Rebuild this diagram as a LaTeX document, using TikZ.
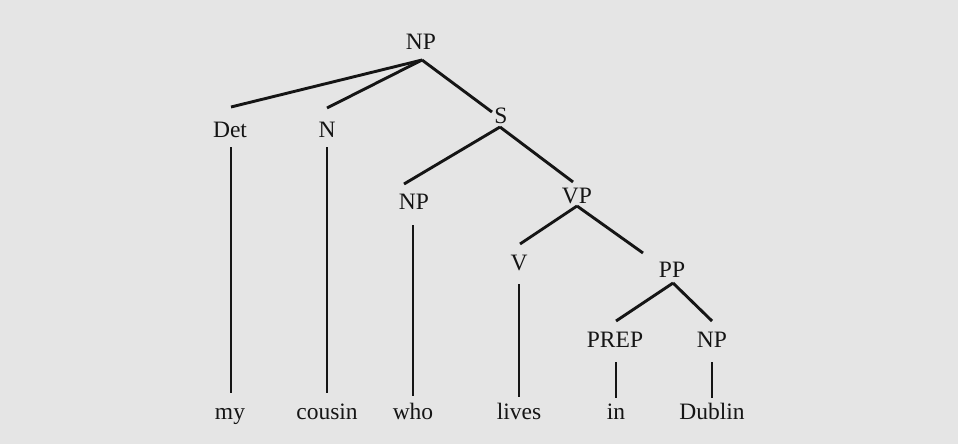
\documentclass[tikz,border=0pt]{standalone}
\usepackage{fontspec}
\setmainfont{Liberation Serif}
\definecolor{paper}{HTML}{E5E5E5}
\definecolor{ink}{HTML}{151515}
\begin{document}
\begin{tikzpicture}[x=1pt,y=-1pt,
  lbl/.style={anchor=base,inner sep=0pt,text=ink,font=\fontsize{23.5}{28}\selectfont},
  branch/.style={draw=ink,line width=2.9pt}]
% canvas
\fill[paper] (0,0) rectangle (958,444);
\useasboundingbox (0,0) rectangle (958,444);
% category labels
\node[lbl] (np0)  at (421,50)  {NP};
\node[lbl] (det)  at (230,137) {Det};
\node[lbl] (n)    at (327,137) {N};
\node[lbl] (s)    at (501,123) {S};
\node[lbl] (np1)  at (414,209) {NP};
\node[lbl] (vp)   at (577,203) {VP};
\node[lbl] (v)    at (519,270) {V};
\node[lbl] (pp)   at (672,277) {PP};
\node[lbl] (prep) at (615,347) {PREP};
\node[lbl] (np2)  at (712,347) {NP};
% words
\node[lbl] (my)     at (230,419) {my};
\node[lbl] (cousin) at (327,419) {cousin};
\node[lbl] (who)    at (413,419) {who};
\node[lbl] (lives)  at (519,419) {lives};
\node[lbl] (in)     at (616,419) {in};
\node[lbl] (dublin) at (712,419) {Dublin};
% branches
\draw[branch] ([shift={(1,10)}]np0.base) -- ([shift={(1,-30)}]det.base);
\draw[branch] ([shift={(1,10)}]np0.base) -- ([shift={(0,-29)}]n.base);
\draw[branch] ([shift={(1,10)}]np0.base) -- ([shift={(-9,-11)}]s.base);
\draw[branch] ([shift={(-1,4)}]s.base) -- ([shift={(-10,-25)}]np1.base);
\draw[branch] ([shift={(-1,4)}]s.base) -- ([shift={(-4,-21)}]vp.base);
\draw[branch] ([shift={(0,3)}]vp.base) -- ([shift={(1,-26)}]v.base);
\draw[branch] ([shift={(0,3)}]vp.base) -- ([shift={(-29,-24)}]pp.base);
\draw[branch] ([shift={(1,6)}]pp.base) -- ([shift={(1,-26)}]prep.base);
\draw[branch] ([shift={(1,6)}]pp.base) -- ([shift={(0,-26)}]np2.base);
% lexical stems
\draw[branch] ([shift={(1,10)}]det.base) -- ([shift={(1,-26)}]my.base);
\draw[branch] ([shift={(0,10)}]n.base) -- ([shift={(0,-26)}]cousin.base);
\draw[branch] ([shift={(-1,16)}]np1.base) -- ([shift={(0,-23)}]who.base);
\draw[branch] ([shift={(0,14)}]v.base) -- ([shift={(0,-22)}]lives.base);
\draw[branch] ([shift={(1,15)}]prep.base) -- ([shift={(0,-21)}]in.base);
\draw[branch] ([shift={(0,15)}]np2.base) -- ([shift={(0,-21)}]dublin.base);
\end{tikzpicture}
\end{document}
